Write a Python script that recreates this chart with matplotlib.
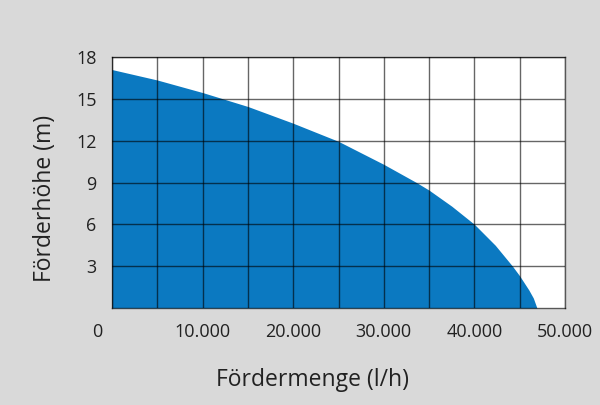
import numpy as np
import matplotlib
matplotlib.use("Agg")
import matplotlib.pyplot as plt
import matplotlib.transforms as mtransforms

# pump curve
flow = [0, 5000, 10000, 15000, 20000, 25000, 30000, 33600, 35000, 37500,
        40000, 42300, 44200, 45000, 46000, 46500, 46900]
head = [17.1, 16.35, 15.45, 14.45, 13.25, 11.95, 10.3, 9.0, 8.45, 7.3,
        6.0, 4.5, 3.0, 2.3, 1.3, 0.72, 0.0]

x_ticks = [0, 10000, 20000, 30000, 40000, 50000]
x_labels = ["0", "10.000", "20.000", "30.000", "40.000", "50.000"]
y_ticks = [3, 6, 9, 12, 15, 18]
y_labels = ["3", "6", "9", "12", "15", "18"]

BLUE = "#0b79c1"
BG = "#d9d9d9"

plt.rcParams["font.family"] = ["Open Sans", "DejaVu Sans"]

fig = plt.figure(figsize=(6, 4.05), dpi=100, facecolor=BG)
ax = fig.add_axes([112 / 600, 1 - 308 / 405, 453 / 600, 251 / 405])
ax.set_facecolor("white")

ax.fill_between(flow, head, 0, color=BLUE, linewidth=0, zorder=1)

ax.set_xlim(0, 50000)
ax.set_ylim(0, 18)
ax.set_xticks(x_ticks)
ax.set_xticklabels(x_labels)
ax.set_xticks(np.arange(5000, 50000, 10000), minor=True)
ax.set_yticks(y_ticks)
ax.set_yticklabels(y_labels)

ax.set_axisbelow(False)
ax.grid(True, which="both", color="black", alpha=0.6, linewidth=1.0)
ax.tick_params(which="both", length=0, labelsize=13, colors="#222222")
ax.tick_params(axis="x", pad=11)
ax.tick_params(axis="y", pad=11)

for s in ax.spines.values():
    s.set_color((0, 0, 0, 0.6))
    s.set_linewidth(1.0)

# the "0" label sits a little left of the axis corner
lbl0 = ax.get_xticklabels()[0]
lbl0.set_transform(lbl0.get_transform() + mtransforms.ScaledTranslation(-15 / 100, 0, fig.dpi_scale_trans))

fig.text(312 / 600, 1 - 380 / 405, "Fördermenge (l/h)", ha="center", va="center", fontsize=16.5, color="#222222")
fig.text(45 / 600, 1 - 198 / 405, "Förderhöhe (m)", ha="center", va="center", rotation=90, fontsize=16.5, color="#222222")

fig.savefig("out.png", dpi=100, facecolor=BG)
